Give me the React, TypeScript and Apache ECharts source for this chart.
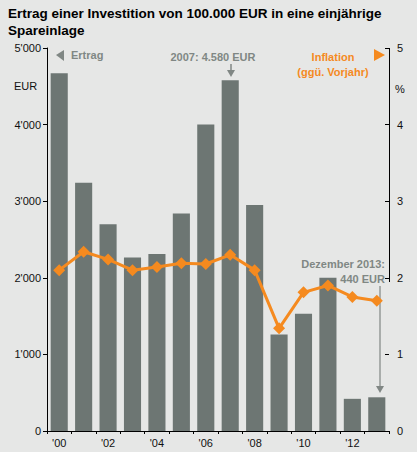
import React, { useEffect, useRef } from "react";
import * as echarts from "echarts";

const years = ["'00", "'01", "'02", "'03", "'04", "'05", "'06", "'07", "'08", "'09", "'10", "'11", "'12", "'13"];
const ertrag = [4670, 3240, 2700, 2265, 2310, 2840, 4000, 4580, 2950, 1260, 1530, 2000, 420, 440];
const inflation = [2.1, 2.34, 2.24, 2.1, 2.14, 2.19, 2.18, 2.3, 2.1, 1.34, 1.81, 1.9, 1.75, 1.7];
const leftTicks = [0, 1000, 2000, 3000, 4000, 5000];

const BG = "#e6e7e6";
const BAR = "#6d7673";
const ORANGE = "#f58a1f";
const GRAY_TXT = "#808784";
const FONT = "'Liberation Sans', Arial, sans-serif";

function fmtThousands(v: number) {
  const s = String(v);
  return s.length > 3 ? s.slice(0, s.length - 3) + "'" + s.slice(s.length - 3) : s;
}

export default function App() {
  const ref = useRef<HTMLDivElement>(null);
  useEffect(() => {
    document.body.style.margin = "0";
    const chart = echarts.init(ref.current!, null, { renderer: "svg" });
    const option: any = {
      animation: false,
      backgroundColor: BG,
      textStyle: { fontFamily: FONT },
      grid: { left: 47, right: 28, top: 48, bottom: 21 },
      xAxis: {
        type: "category",
        data: years,
        boundaryGap: true,
        axisLine: { lineStyle: { color: "#000", width: 1 } },
        axisTick: { show: true, interval: 0, length: 3, lineStyle: { color: "#000" } },
        axisLabel: {
          interval: 1,
          color: "#111",
          fontSize: 11,
          margin: 6,
          fontFamily: FONT,
        },
      },
      yAxis: [
        {
          type: "value",
          min: leftTicks[0],
          max: leftTicks[leftTicks.length - 1],
          interval: 1000,
          axisLine: { show: true, lineStyle: { color: "#000" } },
          axisTick: { show: true, length: 4, lineStyle: { color: "#000" } },
          splitLine: { show: false },
          axisLabel: {
            color: "#111",
            fontSize: 11,
            margin: 6,
            fontFamily: FONT,
            formatter: (v: number) => fmtThousands(v),
          },
        },
        {
          type: "value",
          min: 0,
          max: 5,
          interval: 1,
          position: "right",
          axisLine: { show: false },
          axisTick: { show: true, inside: true, length: 4, lineStyle: { color: "#000" } },
          splitLine: { show: false },
          axisLabel: { color: "#111", fontSize: 11, margin: 8, fontFamily: FONT },
        },
      ],
      series: [
        {
          type: "bar",
          data: ertrag,
          barCategoryGap: "30%",
          itemStyle: { color: BAR },
          yAxisIndex: 0,
          z: 2,
        },
        {
          type: "line",
          data: inflation,
          yAxisIndex: 1,
          symbol: "diamond",
          symbolSize: 12,
          lineStyle: { color: ORANGE, width: 3 },
          itemStyle: { color: ORANGE },
          z: 3,
        },
      ],
      graphic: [
        {
          type: "text",
          left: 8,
          top: 5,
          style: {
            text: "Ertrag einer Investition von 100.000 EUR in eine einjährige\nSpareinlage",
            fontSize: 13.5,
            fontWeight: "bold",
            fontFamily: FONT,
            fill: "#000",
            lineHeight: 17,
          },
        },
        { type: "text", x: 14, y: 80, style: { text: "EUR", font: `11px ${FONT}`, fill: "#111" } },
        { type: "text", x: 395, y: 83, style: { text: "%", font: `11px ${FONT}`, fill: "#111" } },
        { type: "polygon", shape: { points: [[56, 55], [64, 50], [64, 61]] }, style: { fill: GRAY_TXT } },
        { type: "text", x: 71, y: 49, style: { text: "Ertrag", font: `bold 11px ${FONT}`, fill: GRAY_TXT } },
        {
          type: "text",
          x: 213,
          y: 51,
          style: { text: "2007: 4.580 EUR", font: `bold 11px ${FONT}`, fill: GRAY_TXT, textAlign: "center" },
        },
        { type: "line", shape: { x1: 231, y1: 64, x2: 231, y2: 74 }, style: { stroke: GRAY_TXT, lineWidth: 1.5 } },
        { type: "polygon", shape: { points: [[227, 70], [235, 70], [231, 77]] }, style: { fill: GRAY_TXT } },
        {
          type: "text",
          x: 333,
          y: 49,
          style: {
            text: "Inflation\n(ggü. Vorjahr)",
            font: `bold 11px ${FONT}`,
            fill: ORANGE,
            textAlign: "center",
            lineHeight: 15,
          },
        },
        { type: "polygon", shape: { points: [[374, 49], [385, 55], [374, 61]] }, style: { fill: ORANGE } },
        { type: "line", shape: { x1: 389.5, y1: 48, x2: 389.5, y2: 282 }, style: { stroke: "#000", lineWidth: 1 } },
        {
          type: "text",
          x: 385,
          y: 256,
          style: {
            text: "Dezember 2013:\n440 EUR",
            font: `bold 11px ${FONT}`,
            fill: GRAY_TXT,
            textAlign: "right",
            lineHeight: 15,
          },
        },
        { type: "line", shape: { x1: 380, y1: 286, x2: 380, y2: 390 }, style: { stroke: GRAY_TXT, lineWidth: 1.2 } },
        { type: "polygon", shape: { points: [[376, 386], [384, 386], [380, 393]] }, style: { fill: GRAY_TXT } },
      ],
    };
    chart.setOption(option);
    return () => chart.dispose();
  }, []);
  return <div ref={ref} style={{ width: 417, height: 452 }} />;
}
